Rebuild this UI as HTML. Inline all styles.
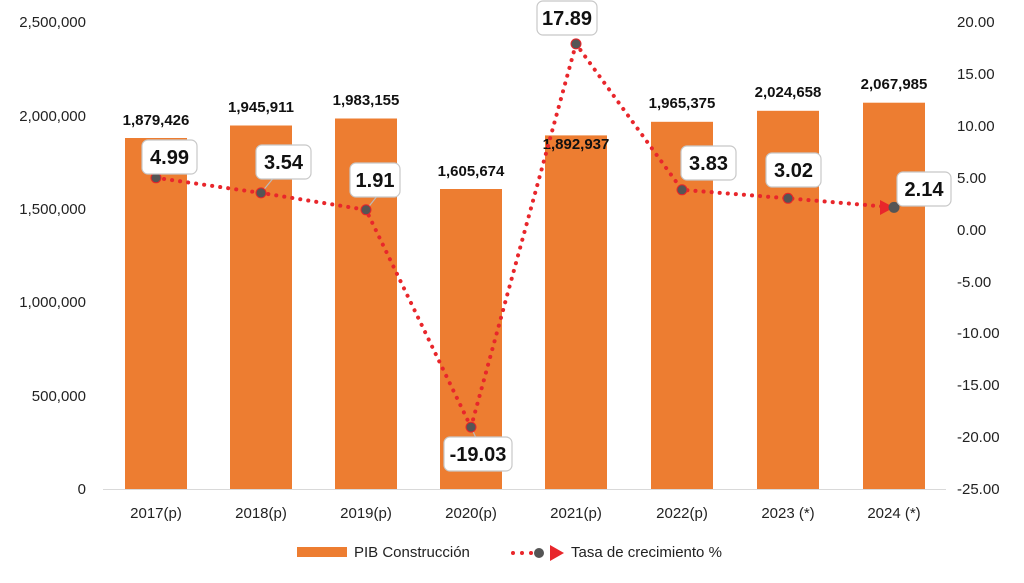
<!DOCTYPE html><html><head><meta charset="utf-8"><style>body{margin:0;background:#fff}svg{display:block}text{font-family:"Liberation Sans",sans-serif}</style></head><body>
<svg width="1024" height="583" viewBox="0 0 1024 583">
<g font-size="15" fill="#222" text-anchor="end">
<text x="86" y="27">2,500,000</text><text x="86" y="121">2,000,000</text><text x="86" y="214">1,500,000</text><text x="86" y="307">1,000,000</text><text x="86" y="401">500,000</text><text x="86" y="494">0</text>
</g>
<g font-size="15" fill="#222" text-anchor="start">
<text x="957" y="27">20.00</text><text x="957" y="79">15.00</text><text x="957" y="131">10.00</text><text x="957" y="183">5.00</text><text x="957" y="235">0.00</text><text x="957" y="287">-5.00</text><text x="957" y="338">-10.00</text><text x="957" y="390">-15.00</text><text x="957" y="442">-20.00</text><text x="957" y="494">-25.00</text>
</g>
<g fill="#ED7D31">
<rect x="125" y="138" width="62" height="351"/><rect x="230" y="125.5" width="62" height="363.5"/><rect x="335" y="118.5" width="62" height="370.5"/><rect x="440" y="189" width="62" height="300"/><rect x="545" y="135.4" width="62" height="353.6"/><rect x="651" y="121.8" width="62" height="367.2"/><rect x="757" y="110.8" width="62" height="378.2"/><rect x="863" y="102.7" width="62" height="386.3"/>
</g>
<line x1="103" y1="489.5" x2="946" y2="489.5" stroke="#d9d9d9"/>
<g font-size="15" font-weight="bold" fill="#111" text-anchor="middle">
<text x="156" y="125">1,879,426</text><text x="261" y="112">1,945,911</text><text x="366" y="105">1,983,155</text><text x="471" y="176">1,605,674</text><text x="576" y="149">1,892,937</text><text x="682" y="108">1,965,375</text><text x="788" y="97">2,024,658</text><text x="894" y="89">2,067,985</text>
</g>
<g font-size="15" fill="#222" text-anchor="middle">
<text x="156" y="518">2017(p)</text><text x="261" y="518">2018(p)</text><text x="366" y="518">2019(p)</text><text x="471" y="518">2020(p)</text><text x="576" y="518">2021(p)</text><text x="682" y="518">2022(p)</text><text x="788" y="518">2023 (*)</text><text x="894" y="518">2024 (*)</text>
</g>
<g stroke="#bbb" stroke-width="1.2"><line x1="261" y1="193" x2="275" y2="176"/><line x1="366" y1="210" x2="378" y2="195"/><line x1="471" y1="427" x2="476" y2="438"/></g>
<polyline points="156,177.8 261,192.9 366,209.8 471,427.1 576,43.9 682,189.8 788,198.3 894,207.4" fill="none" stroke="#E8262B" stroke-width="4" stroke-dasharray="0.1 8" stroke-linecap="round"/>
<g fill="#555" stroke="#E8262B" stroke-width="1">
<circle cx="156" cy="177.8" r="5"/><circle cx="261" cy="192.9" r="5"/><circle cx="366" cy="209.8" r="5"/><circle cx="471" cy="427.1" r="5"/><circle cx="576" cy="43.9" r="5"/><circle cx="682" cy="189.8" r="5"/><circle cx="788" cy="198.3" r="5"/></g>
<polygon points="880,200 894,207.4 880,215" fill="#E8262B"/><circle cx="894" cy="207.4" r="5.5" fill="#555"/>
<g fill="#fff" stroke="#c8c8c8" stroke-width="1.2">
<rect x="142" y="140" width="55" height="34" rx="6"/><rect x="256" y="145" width="55" height="34" rx="6"/><rect x="350" y="163" width="50" height="34" rx="6"/><rect x="444" y="437" width="68" height="34" rx="6"/><rect x="537" y="1" width="60" height="34" rx="6"/><rect x="681" y="146" width="55" height="34" rx="6"/><rect x="766" y="153" width="55" height="34" rx="6"/><rect x="897" y="172" width="54" height="34" rx="6"/>
</g>
<g font-size="20" font-weight="bold" fill="#111" text-anchor="middle">
<text x="169.5" y="164">4.99</text><text x="283.5" y="169">3.54</text><text x="375" y="187">1.91</text><text x="478" y="461">-19.03</text><text x="567" y="25">17.89</text><text x="708.5" y="170">3.83</text><text x="793.5" y="177">3.02</text><text x="924" y="196">2.14</text>
</g>
<rect x="297" y="547" width="50" height="10" fill="#ED7D31"/>
<text x="354" y="557" font-size="15" fill="#222">PIB Construcción</text>
<g fill="#E8262B"><circle cx="513" cy="553" r="2"/><circle cx="522" cy="553" r="2"/><circle cx="531" cy="553" r="2"/><polygon points="550,545 564,553 550,561"/></g>
<circle cx="539" cy="553" r="5" fill="#555"/>
<text x="571" y="557" font-size="15" fill="#222">Tasa de crecimiento %</text>
</svg></body></html>
